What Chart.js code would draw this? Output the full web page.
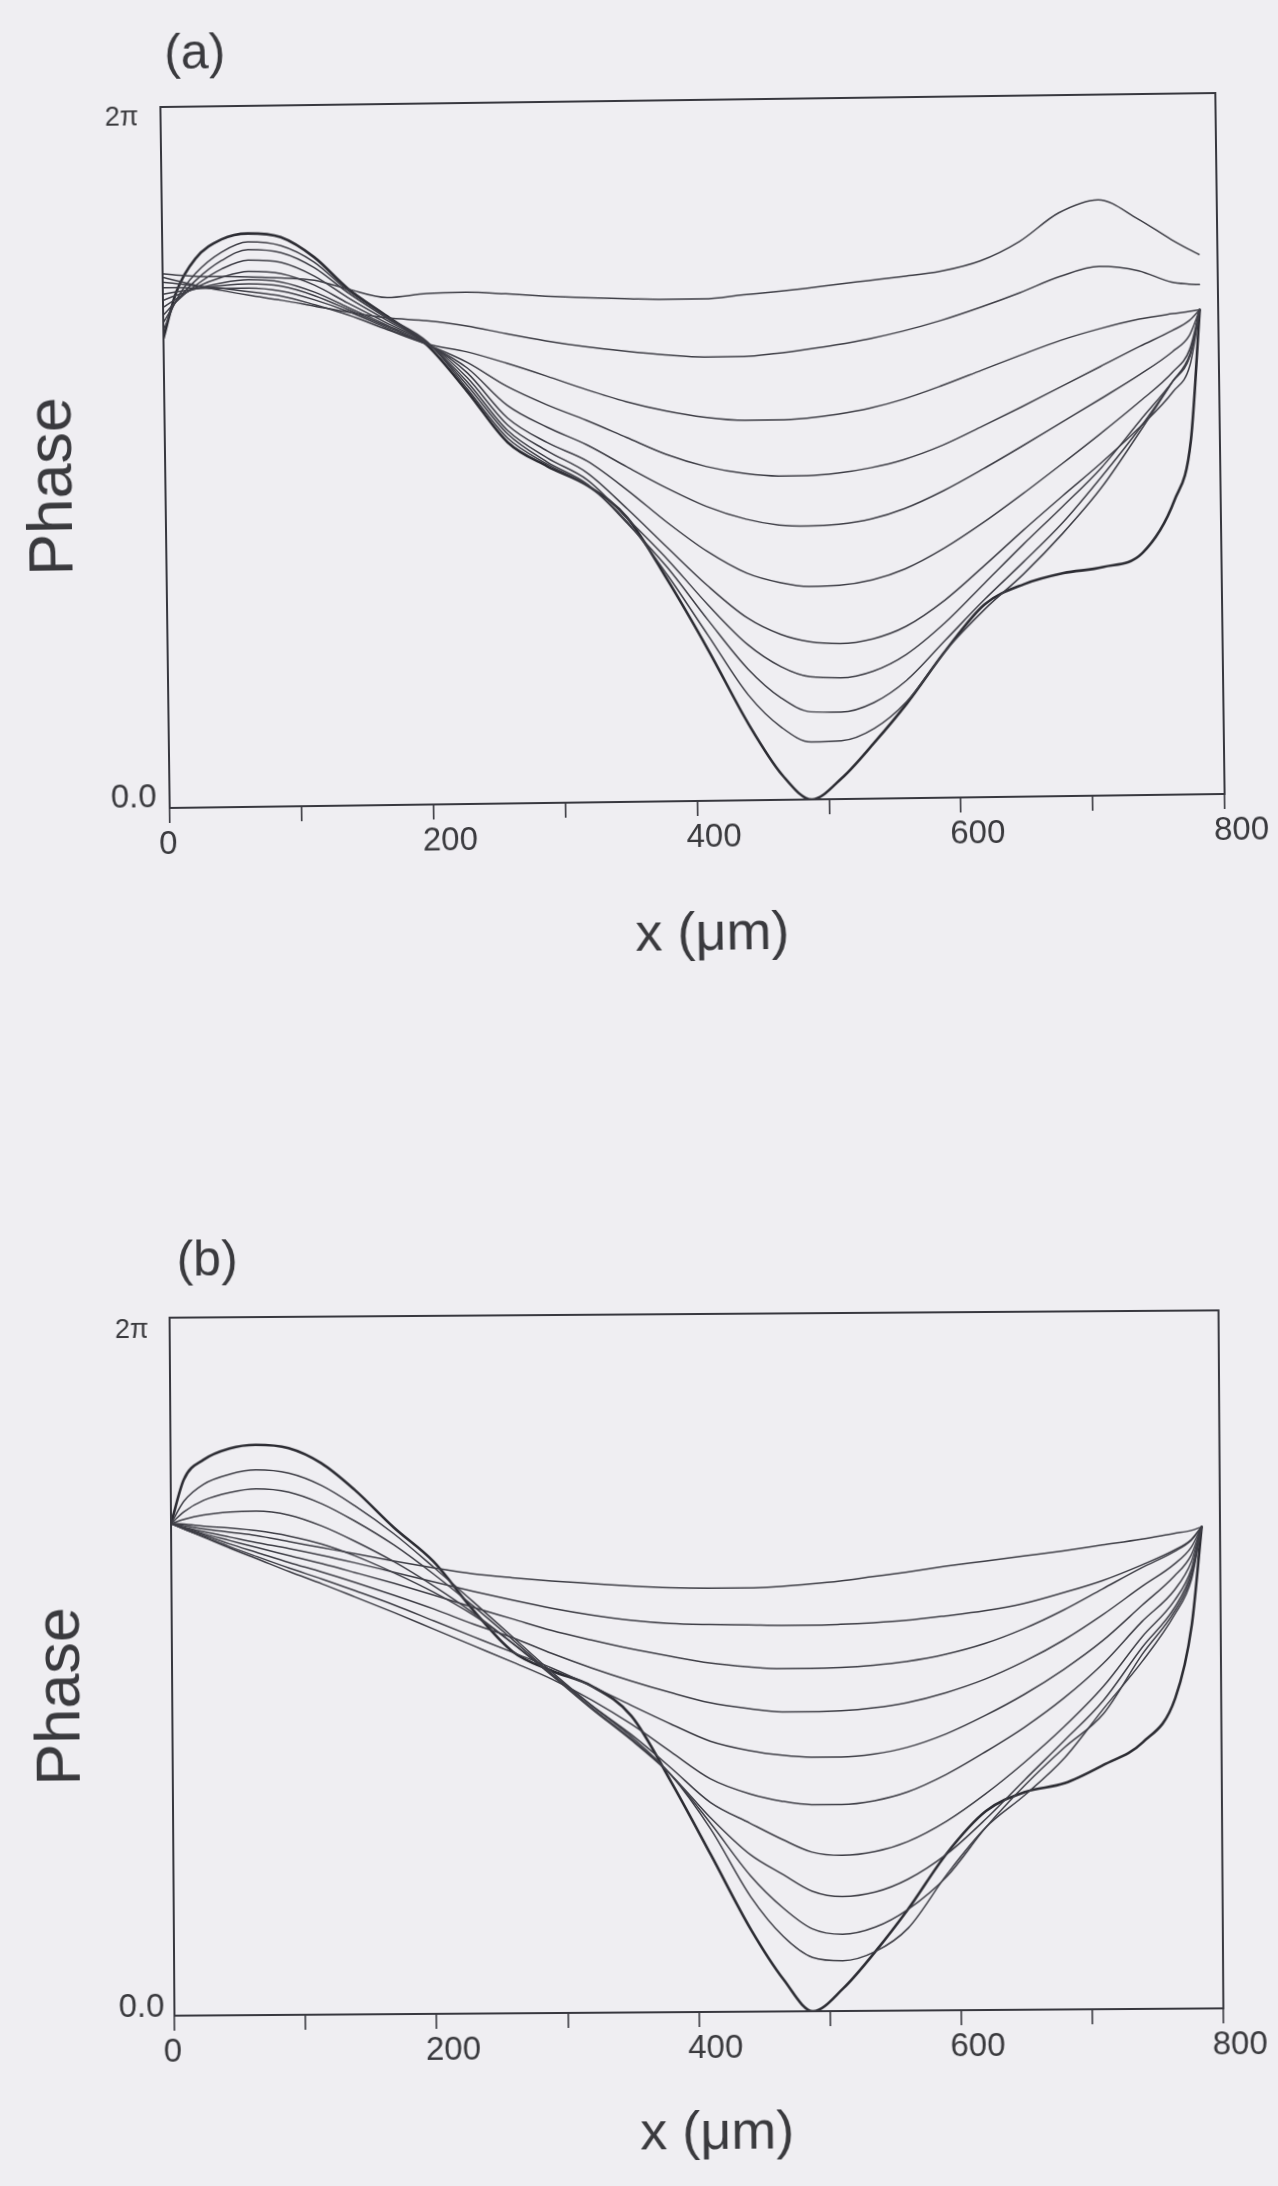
<!DOCTYPE html>
<html><head><meta charset="utf-8">
<script src="https://cdn.jsdelivr.net/npm/chart.js@4.4.1/dist/chart.umd.min.js"></script>
<style>
html,body{margin:0;padding:0;background:#efeef2;}
body{width:1278px;height:2186px;position:relative;overflow:hidden;}
.wrap{position:absolute;left:0;}
#wa{top:0;width:1278px;height:1000px;transform-origin:692.5px 450.5px;transform:rotate(-0.76deg);}
#wb{top:1200px;width:1278px;height:986px;transform-origin:700px 462px;transform:rotate(-0.4deg);}
canvas{display:block;}
</style></head><body>
<div class="wrap" id="wa"><canvas id="ca" width="1278" height="1000"></canvas></div>
<div class="wrap" id="wb"><canvas id="cb" width="1278" height="986"></canvas></div>
<script>
// ---- data: phase in units of 2π, x in µm ----
const xTickValues = [0,100,200,300,400,500,600,700,800];
const xTickLabels = ['0','','200','','400','','600','','800'];
const yTickValues = [0,1];
const yTickLabels = ['0.0','2π'];
const panelLabels = ['(a)','(b)'];
const xTitle = 'x (μm)';
const yTitle = 'Phase';

const xA = [0,10,25,45,65,90,115,140,170,200,230,260,290,320,350,380,410,440,465,487,510,535,560,590,620,650,680,710,740,765,778,786];
const a1 = [.762,.760,.758,.757,.756,.754,.750,.737,.724,.729,.730,.727,.723,.720,.718,.716,.716,.721,.725,.729,.734,.739,.744,.751,.765,.792,.832,.850,.822,.792,.778,.770];
const a2 = [.757,.752,.745,.737,.730,.722,.713,.704,.695,.690,.682,.670,.659,.650,.643,.637,.633,.633,.637,.642,.648,.656,.666,.681,.699,.719,.741,.755,.748,.731,.728,.727];
const a3 = [.750,.748,.744,.740,.735,.728,.715,.700,.678,.657,.645,.628,.609,.589,.571,.557,.547,.542,.542,.544,.549,.557,.569,.588,.609,.630,.650,.666,.679,.686,.689,.691];
const a4 = [.742,.742,.741,.740,.740,.735,.722,.705,.680,.656,.630,.595,.568,.545,.520,.495,.477,.466,.462,.462,.465,.472,.483,.503,.529,.556,.584,.612,.640,.662,.676,.691];
const a5 = [.733,.736,.740,.744,.746,.742,.728,.708,.682,.656,.622,.568,.536,.510,.478,.447,.420,.401,.392,.390,.392,.399,.413,.438,.468,.500,.533,.566,.600,.632,.655,.691];
const a6 = [.724,.731,.740,.748,.752,.748,.733,.711,.684,.657,.615,.550,.514,.487,.445,.398,.356,.324,.310,.304,.305,.312,.327,.356,.392,.432,.474,.517,.562,.603,.635,.691];
const a7 = [.714,.726,.742,.756,.764,.760,.743,.717,.687,.658,.608,.540,.502,.470,.418,.362,.307,.260,.236,.225,.222,.228,.245,.282,.330,.380,.428,.475,.526,.575,.612,.691];
const a8 = [.703,.722,.745,.768,.780,.776,.756,.725,.691,.658,.602,.532,.492,.460,.404,.345,.280,.222,.190,.175,.173,.182,.205,.250,.305,.360,.413,.468,.535,.590,.625,.691];
const a9 = [.692,.722,.752,.780,.795,.790,.768,.732,.694,.659,.597,.527,.486,.454,.397,.333,.258,.187,.145,.125,.124,.137,.168,.225,.282,.335,.390,.455,.525,.590,.625,.691];
const a10 = [.681,.724,.762,.792,.806,.800,.776,.735,.696,.660,.592,.521,.483,.452,.399,.322,.236,.150,.103,.082,.083,.100,.138,.210,.268,.318,.375,.440,.520,.590,.628,.691];
const a11 = [.670,.735,.783,.810,.818,.812,.783,.738,.697,.655,.588,.515,.480,.452,.405,.315,.215,.108,.035,.000,.030,.080,.135,.210,.275,.303,.318,.326,.345,.420,.505,.691];

const xB = [0,10,25,45,65,90,115,140,170,200,230,260,290,320,350,380,410,440,465,487,510,535,560,590,620,650,680,710,740,765,778,786];
const b1 = [.705,.702,.697,.692,.687,.678,.669,.660,.649,.639,.630,.624,.619,.615,.611,.608,.607,.607,.609,.612,.616,.622,.628,.636,.643,.650,.657,.665,.673,.681,.685,.690];
const b2 = [.705,.700,.693,.685,.677,.668,.658,.647,.633,.619,.605,.592,.580,.570,.562,.557,.555,.554,.553,.553,.554,.556,.559,.565,.572,.582,.597,.614,.636,.657,.672,.690];
const b3 = [.705,.699,.690,.680,.670,.658,.646,.633,.617,.600,.582,.565,.548,.534,.521,.510,.500,.494,.491,.491,.492,.495,.500,.510,.525,.546,.572,.602,.632,.655,.671,.690];
const b4 = [.705,.698,.688,.675,.663,.648,.634,.619,.600,.580,.558,.538,.515,.494,.475,.458,.443,.434,.429,.429,.430,.434,.441,.455,.474,.499,.529,.565,.605,.637,.661,.690];
const b5 = [.705,.697,.686,.671,.657,.640,.624,.607,.586,.563,.540,.517,.494,.468,.440,.413,.388,.374,.367,.364,.364,.368,.377,.396,.422,.452,.487,.528,.578,.620,.650,.690];
const b6 = [.705,.697,.685,.669,.654,.635,.617,.598,.575,.551,.527,.503,.478,.448,.413,.373,.334,.312,.301,.296,.296,.301,.313,.338,.370,.405,.446,.495,.555,.600,.640,.690];
const b7 = [.705,.704,.701,.698,.694,.686,.674,.657,.632,.604,.571,.530,.485,.440,.398,.350,.300,.270,.246,.228,.223,.228,.242,.271,.310,.355,.405,.462,.533,.585,.630,.690];
const b8 = [.705,.711,.717,.721,.722,.716,.700,.678,.648,.613,.574,.530,.483,.435,.390,.340,.278,.225,.196,.172,.164,.170,.188,.224,.274,.330,.385,.442,.518,.575,.625,.690];
const b9 = [.705,.722,.738,.749,.754,.749,.732,.707,.672,.630,.584,.535,.485,.437,.392,.340,.270,.195,.148,.118,.110,.120,.145,.192,.262,.322,.375,.423,.508,.570,.620,.690];
const b10 = [.705,.737,.761,.775,.781,.776,.758,.729,.688,.640,.590,.539,.488,.440,.395,.340,.262,.165,.107,.077,.072,.085,.118,.195,.262,.308,.360,.430,.498,.565,.615,.690];
const b11 = [.705,.768,.796,.812,.817,.812,.790,.752,.697,.648,.578,.518,.490,.468,.425,.330,.225,.118,.045,.000,.032,.085,.145,.225,.285,.312,.324,.350,.382,.445,.550,.690];

const seriesA = [a1,a2,a3,a4,a5,a6,a7,a8,a9,a10,a11];
const seriesB = [b1,b2,b3,b4,b5,b6,b7,b8,b9,b10,b11];

// ---- styling / layout ----
const FONT = '"Liberation Sans", Arial, Helvetica, sans-serif';
const INK = '#38383f';
const TXT = '#3a3a3e';

const geoA = {W:1278,H:1000,left:165,right:1220,top:100,bottom:801,
  panel:{x:200,y:48,size:50}, ytitle:{x:54,y:478,size:63}, xtitle:{x:706,y:935,size:54},
  ylab:[{pad:13,dy:-10,size:33},{pad:22,dy:11,size:27}]};
const geoB = {W:1278,H:986,left:172,right:1228,top:114,bottom:812,
  panel:{x:210,y:58,size:50}, ytitle:{x:62,y:492,size:63}, xtitle:{x:714,y:934,size:54},
  ylab:[{pad:10,dy:-8,size:33},{pad:21,dy:13,size:27}]};

const textPlugin = {
  id:'txt',
  afterDraw(chart, args, o){
    const g = o.geo, ctx = chart.ctx, ca = chart.chartArea, ys = chart.scales.y;
    ctx.save();
    ctx.strokeStyle = INK; ctx.lineWidth = 2;
    ctx.strokeRect(ca.left, ca.top, ca.right-ca.left, ca.bottom-ca.top);
    ctx.fillStyle = TXT;
    ctx.textBaseline = 'middle';
    ctx.textAlign = 'right';
    yTickValues.forEach((v,i)=>{
      const L = g.ylab[i];
      ctx.font = L.size + 'px ' + FONT;
      ctx.fillText(yTickLabels[i], ca.left - L.pad, ys.getPixelForValue(v) + L.dy);
    });
    ctx.textAlign = 'center';
    ctx.font = g.panel.size + 'px ' + FONT;
    ctx.fillText(o.panel, g.panel.x, g.panel.y);
    ctx.font = g.xtitle.size + 'px ' + FONT;
    ctx.fillText(xTitle, g.xtitle.x, g.xtitle.y);
    ctx.translate(g.ytitle.x, g.ytitle.y);
    ctx.rotate(-Math.PI/2);
    ctx.font = g.ytitle.size + 'px ' + FONT;
    ctx.fillText(yTitle, 0, 0);
    ctx.restore();
  }
};

function makeChart(id, xs, series, geo, panel){
  const n = series.length;
  const datasets = series.map((ys,i)=>({
    data: xs.map((x,j)=>({x:x, y:ys[j]})),
    borderColor: i===n-1 ? '#2c2c33' : '#3e3e46',
    borderWidth: i===n-1 ? 2.6 : 1.5,
    pointRadius: 0,
    fill: false,
    cubicInterpolationMode: 'monotone',
    borderJoinStyle: 'round',
    borderCapStyle: 'round'
  }));
  return new Chart(document.getElementById(id), {
    type:'line',
    data:{datasets},
    plugins:[textPlugin],
    options:{
      responsive:false, animation:false, devicePixelRatio:1,
      layout:{padding:{left:0,right:geo.W-geo.right,top:geo.top,bottom:0}},
      plugins:{legend:{display:false}, tooltip:{enabled:false}, txt:{geo:geo, panel:panel}},
      scales:{
        x:{type:'linear', min:0, max:800, position:'bottom',
          afterFit(s){ s.height = geo.H - geo.bottom; },
          afterBuildTicks(s){ s.ticks = xTickValues.map(v=>({value:v})); },
          ticks:{autoSkip:false, maxRotation:0, align:'start', labelOffset:-11, padding:2, color:TXT,
            font:{family:FONT, size:33},
            callback:(v)=>{ const k = xTickValues.indexOf(v); return k<0 ? '' : xTickLabels[k]; }},
          grid:{drawOnChartArea:false, drawTicks:true, tickLength:15, color:INK, lineWidth:1.6},
          border:{display:false},
          title:{display:false}
        },
        y:{type:'linear', min:0, max:1,
          afterFit(s){ s.width = geo.left; },
          ticks:{display:false},
          grid:{display:false, drawTicks:false},
          border:{display:false},
          title:{display:false}
        }
      }
    }
  });
}

makeChart('ca', xA, seriesA, geoA, panelLabels[0]);
makeChart('cb', xB, seriesB, geoB, panelLabels[1]);
</script></body></html>
